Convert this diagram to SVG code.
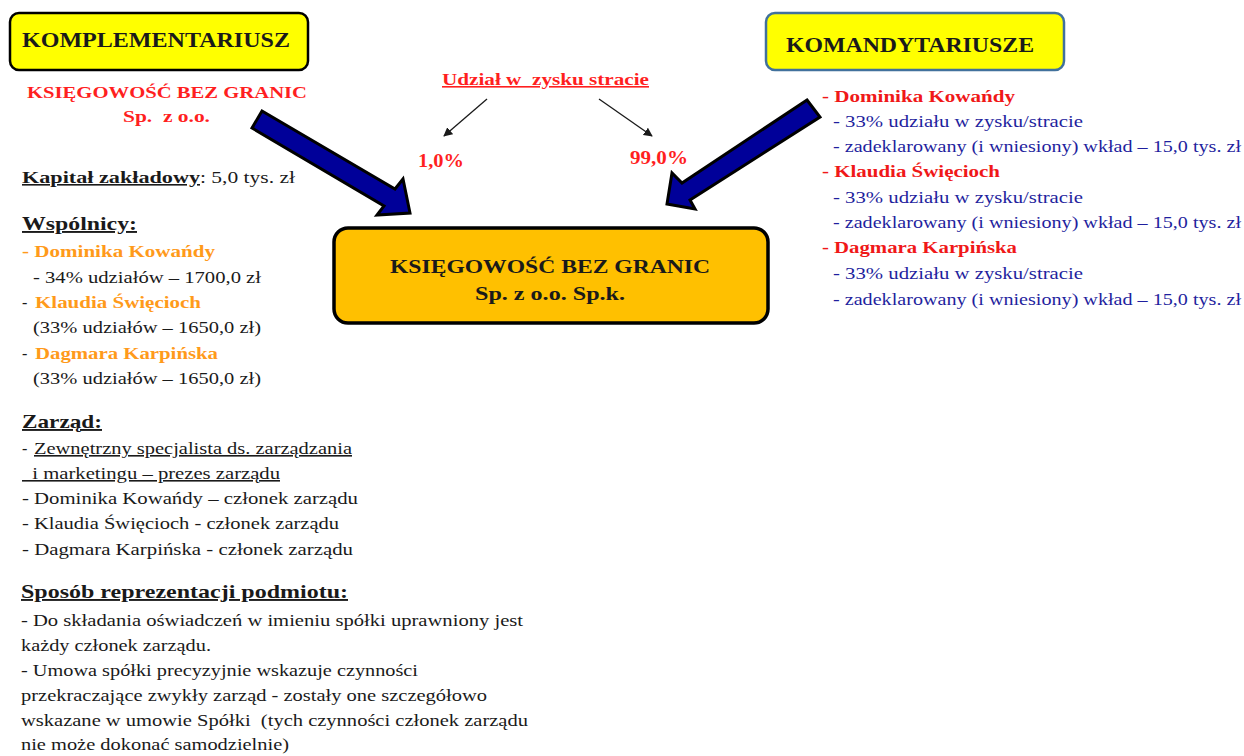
<svg xmlns="http://www.w3.org/2000/svg" width="1244" height="756" viewBox="0 0 1244 756">
<style>
text{font-family:"Liberation Serif","Times New Roman",serif;}
.b{font-weight:bold;}
.t{font-size:16px;fill:#1a1a1a;}
.h{font-size:19px;font-weight:bold;fill:#1a1a1a;text-decoration:underline;}
.red{fill:#FF1F1F;}
.org{fill:#FF9A1A;font-weight:bold;font-size:17px;}
.nv{fill:#1F1F9E;font-size:16px;}
.rn{fill:#F01818;font-weight:bold;font-size:17px;}
.big{fill:#000099;stroke:#000;stroke-width:3;stroke-linejoin:miter;}
</style>
<defs>
<marker id="ah" viewBox="0 0 10 10" refX="9" refY="5" markerWidth="9" markerHeight="9" markerUnits="userSpaceOnUse" orient="auto"><path d="M0,0 L10,5 L0,10 z" fill="#1a1a1a"/></marker>
</defs>

<g id="komplementariusz">
<rect x="10" y="13" width="298" height="57" rx="9" fill="#FFFF00" stroke="#000" stroke-width="2.5"/>
<text x="22" y="47" class="b" font-size="21" fill="#1a1a1a" textLength="268" lengthAdjust="spacingAndGlyphs">KOMPLEMENTARIUSZ</text>
<text x="27" y="98" class="b red" font-size="17" textLength="280" lengthAdjust="spacingAndGlyphs">KSIĘGOWOŚĆ BEZ GRANIC</text>
<text x="123" y="122" class="b red" font-size="17" textLength="87" lengthAdjust="spacingAndGlyphs" xml:space="preserve">Sp.  z o.o.</text>
</g>

<g id="komandytariusze">
<rect x="766" y="13" width="298" height="57" rx="9" fill="#FFFF00" stroke="#41719C" stroke-width="2.5"/>
<text x="786" y="52" class="b" font-size="21" fill="#1a1a1a" textLength="248" lengthAdjust="spacingAndGlyphs">KOMANDYTARIUSZE</text>
<text x="822" y="102" class="rn" textLength="193" lengthAdjust="spacingAndGlyphs">- Dominika Kowańdy</text>
<text x="833" y="127" class="nv" textLength="250" lengthAdjust="spacingAndGlyphs">- 33% udziału w zysku/stracie</text>
<text x="833" y="152" class="nv" textLength="408" lengthAdjust="spacingAndGlyphs">- zadeklarowany (i wniesiony) wkład – 15,0 tys. zł</text>
<text x="822" y="177" class="rn" textLength="178" lengthAdjust="spacingAndGlyphs">- Klaudia Święcioch</text>
<text x="833" y="203" class="nv" textLength="250" lengthAdjust="spacingAndGlyphs">- 33% udziału w zysku/stracie</text>
<text x="833" y="228" class="nv" textLength="408" lengthAdjust="spacingAndGlyphs">- zadeklarowany (i wniesiony) wkład – 15,0 tys. zł</text>
<text x="822" y="253" class="rn" textLength="195" lengthAdjust="spacingAndGlyphs">- Dagmara Karpińska</text>
<text x="833" y="279" class="nv" textLength="250" lengthAdjust="spacingAndGlyphs">- 33% udziału w zysku/stracie</text>
<text x="833" y="305" class="nv" textLength="408" lengthAdjust="spacingAndGlyphs">- zadeklarowany (i wniesiony) wkład – 15,0 tys. zł</text>
</g>

<g id="udzial">
<text x="442" y="85" class="b red" font-size="16" text-decoration="underline" textLength="207" lengthAdjust="spacingAndGlyphs" xml:space="preserve">Udział w  zysku stracie</text>
<text x="418" y="167" class="b red" font-size="18" textLength="46" lengthAdjust="spacingAndGlyphs">1,0%</text>
<text x="630" y="164" class="b red" font-size="18" textLength="58" lengthAdjust="spacingAndGlyphs">99,0%</text>
</g>

<g id="spolka">
<rect x="334" y="228" width="434" height="95" rx="14" fill="#FFC000" stroke="#000" stroke-width="3.5"/>
<text x="390" y="273" class="b" font-size="19" fill="#1a1a1a" textLength="320" lengthAdjust="spacingAndGlyphs">KSIĘGOWOŚĆ BEZ GRANIC</text>
<text x="475" y="300" class="b" font-size="19" fill="#1a1a1a" textLength="150" lengthAdjust="spacingAndGlyphs">Sp. z o.o. Sp.k.</text>
</g>

<g id="wspolnicy">
<text x="22" y="183" class="t b" text-decoration="underline" textLength="178" lengthAdjust="spacingAndGlyphs">Kapitał zakładowy</text>
<text x="200" y="183" class="t" textLength="95" lengthAdjust="spacingAndGlyphs">: 5,0 tys. zł</text>
<text x="22" y="230" class="h" textLength="115" lengthAdjust="spacingAndGlyphs">Wspólnicy:</text>
<text x="22" y="257" class="org" textLength="193" lengthAdjust="spacingAndGlyphs">- Dominika Kowańdy</text>
<text x="33" y="283" class="t" textLength="228" lengthAdjust="spacingAndGlyphs">- 34% udziałów – 1700,0 zł</text>
<text x="22" y="308" class="t">-</text>
<text x="35" y="308" class="org" textLength="166" lengthAdjust="spacingAndGlyphs">Klaudia Święcioch</text>
<text x="33" y="333" class="t" textLength="228" lengthAdjust="spacingAndGlyphs">(33% udziałów – 1650,0 zł)</text>
<text x="22" y="359" class="t">-</text>
<text x="35" y="359" class="org" textLength="183" lengthAdjust="spacingAndGlyphs">Dagmara Karpińska</text>
<text x="33" y="384" class="t" textLength="228" lengthAdjust="spacingAndGlyphs">(33% udziałów – 1650,0 zł)</text>
</g>

<g id="zarzad">
<text x="22" y="428" class="h" textLength="80" lengthAdjust="spacingAndGlyphs">Zarząd:</text>
<text x="22" y="454" class="t">-</text>
<text x="34" y="454" class="t" text-decoration="underline" textLength="318" lengthAdjust="spacingAndGlyphs">Zewnętrzny specjalista ds. zarządzania</text>
<text x="22" y="479" class="t" text-decoration="underline" textLength="258" lengthAdjust="spacingAndGlyphs">&#160;&#160;i marketingu – prezes zarządu</text>
<text x="22" y="504" class="t" textLength="336" lengthAdjust="spacingAndGlyphs">- Dominika Kowańdy – członek zarządu</text>
<text x="22" y="529" class="t" textLength="317" lengthAdjust="spacingAndGlyphs">- Klaudia Święcioch - członek zarządu</text>
<text x="22" y="555" class="t" textLength="331" lengthAdjust="spacingAndGlyphs">- Dagmara Karpińska - członek zarządu</text>
</g>

<g id="reprezentacja">
<text x="21" y="598" class="h" textLength="327" lengthAdjust="spacingAndGlyphs">Sposób reprezentacji podmiotu:</text>
<text x="21" y="626" class="t" textLength="502" lengthAdjust="spacingAndGlyphs">- Do składania oświadczeń w imieniu spółki uprawniony jest</text>
<text x="21" y="651" class="t" textLength="190" lengthAdjust="spacingAndGlyphs">każdy członek zarządu.</text>
<text x="21" y="676" class="t" textLength="397" lengthAdjust="spacingAndGlyphs">- Umowa spółki precyzyjnie wskazuje czynności</text>
<text x="21" y="701" class="t" textLength="466" lengthAdjust="spacingAndGlyphs">przekraczające zwykły zarząd - zostały one szczegółowo</text>
<text x="21" y="726" class="t" textLength="507" lengthAdjust="spacingAndGlyphs" xml:space="preserve">wskazane w umowie Spółki  (tych czynności członek zarządu</text>
<text x="21" y="750" class="t" textLength="268" lengthAdjust="spacingAndGlyphs">nie może dokonać samodzielnie)</text>
</g>

<g id="connectors">
<polygon class="big" points="262,111 395,189 403,179 410,213 377,215 384,206 252,128"/>
<polygon class="big" points="807,100 820,117 690,200 695,209 667,204 672,173 682,183"/>
<line x1="487" y1="99" x2="444" y2="136" stroke="#1a1a1a" stroke-width="1.3" marker-end="url(#ah)"/>
<line x1="599" y1="99" x2="652" y2="136" stroke="#1a1a1a" stroke-width="1.3" marker-end="url(#ah)"/>
</g>
</svg>
